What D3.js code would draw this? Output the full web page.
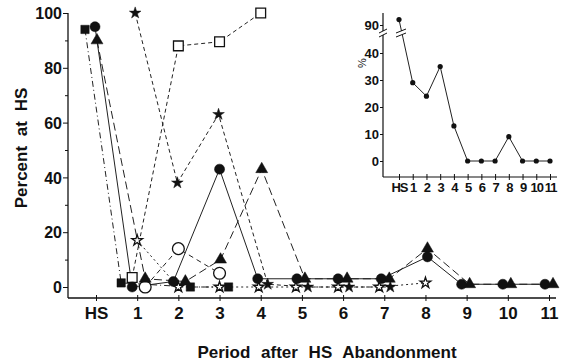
<!DOCTYPE html>
<html>
<head>
<meta charset="utf-8">
<script src="https://cdn.jsdelivr.net/npm/d3@7"></script>
<style>
  body { margin: 0; background: #fff; }
  svg { display: block; }
  text { font-family: "Liberation Sans", Arial, sans-serif; font-weight: bold; fill: #111; }
</style>
</head>
<body>
<svg id="chart" width="566" height="362"></svg>
<script>
// ---- data (percent at HS per period) ----
const periods = ["HS", "1", "2", "3", "4", "5", "6", "7", "8", "9", "10", "11"];
const yTicks = [0, 20, 40, 60, 80, 100];
const yMinorTicks = [10, 30, 50, 70, 90];

const filledCircle   = [95, 0, 2, 43, 3, 3, 3, 3, 11, 1, 1, 1];
const filledTriangle = [90, 3, 2, 10, 43, 3, 3, 3, 14, 1, 1, 1];
const filledSquare   = [94, 1.5, 0, 0, null, null, null, null, null, null, null, null];
const openSquare     = [null, 3.5, 88, 89.5, 100, null, null, null, null, null, null, null];
const openCircle     = [null, 0, 14, 5, null, null, null, null, null, null, null, null];
const filledStar     = [null, 100, 38, 63, 1, 0, 0, 0, null, null, null, null];
const openStar       = [null, 17, 0, 0, 0, 0, 0, 0, 1.5, null, null, null];

// inset: overall percent
const insetTicks = [0, 10, 20, 30, 40];
const insetPercent = [92, 29, 24, 35, 13, 0, 0, 0, 9, 0, 0, 0];

// ---- styles: symbol, dash and small horizontal nudges so overlapping marks stay visible ----
const seriesStyle = [
  { values: filledSquare,   symbol: d3.symbolSquare,   size: 70,  fill: "#111", dash: "6,3,1,3",
    nudge: [-11, -16, 12, 9] },
  { values: openSquare,     symbol: d3.symbolSquare,   size: 95,  fill: "#fff", dash: "4,3",
    nudge: [0, -5, 0, 0, 0] },
  { values: openCircle,     symbol: d3.symbolCircle,   size: 110, fill: "#fff", dash: "5,4",
    nudge: [0, 8, 0, 0] },
  { values: openStar,       symbol: d3.symbolStar,     size: 36,  fill: "#fff", dash: "2,3",
    nudge: [0, 0, 0, 0, -2, -6, -5, -5, 0] },
  { values: filledStar,     symbol: d3.symbolStar,     size: 42,  fill: "#111", dash: "4,3",
    nudge: [0, -2, -1, -1, 7, 6, 6, 6] },
  { values: filledTriangle, symbol: d3.symbolTriangle, size: 62,  fill: "#111", dash: "8,4",
    nudge: [1, 8, 7, 1, 1, 3, 4, 5, 2, 3, 3, 4] },
  { values: filledCircle,   symbol: d3.symbolCircle,   size: 80,  fill: "#111", dash: null,
    nudge: [-1, -5, -5, 0, -3, -5, -5, -3, 2, -5, -5, -4] }
];

const svg = d3.select("#chart");

// ================= main chart =================
const margin = { top: 13, left: 68, right: 10, bottom: 64 };
const plotRight = 556, axisY = 298;

const x = d3.scalePoint().domain(periods).range([96, 549]);
const y = d3.scaleLinear().domain([0, 100]).range([287, 13]);

// axes lines
svg.append("line").attr("x1", margin.left).attr("x2", margin.left)
  .attr("y1", margin.top).attr("y2", axisY).attr("stroke", "#111").attr("stroke-width", 1.3);
svg.append("line").attr("x1", margin.left).attr("x2", plotRight)
  .attr("y1", axisY).attr("y2", axisY).attr("stroke", "#111").attr("stroke-width", 1.3);

const yAxis = svg.append("g").attr("transform", `translate(${margin.left},0)`)
  .call(d3.axisLeft(y).tickValues(yTicks).tickSize(5).tickSizeOuter(0));
yAxis.select(".domain").remove();
yAxis.selectAll("text").attr("x", -6).attr("dy", "0.36em")
  .style("font-size", "16px").style("font-family", "Liberation Sans, Arial, sans-serif").style("font-weight", "bold");

const yMinor = svg.append("g").attr("transform", `translate(${margin.left},0)`)
  .call(d3.axisLeft(y).tickValues(yMinorTicks).tickSize(3).tickFormat(""));
yMinor.select(".domain").remove();

const xAxis = svg.append("g").attr("transform", `translate(0,${axisY})`)
  .call(d3.axisBottom(x).tickSize(3).tickSizeOuter(0));
xAxis.select(".domain").remove();
xAxis.selectAll(".tick line").attr("y1", -3).attr("y2", 3);
xAxis.selectAll("text").attr("y", 9)
  .style("font-size", "17px").style("font-family", "Liberation Sans, Arial, sans-serif").style("font-weight", "bold");

svg.selectAll(".tick line").attr("stroke", "#111");
svg.selectAll(".tick text").attr("fill", "#111");

// axis titles
svg.append("text")
  .attr("x", 327).attr("y", 358)
  .attr("text-anchor", "middle")
  .style("font-size", "17px").style("word-spacing", "6px")
  .text("Period after HS Abandonment");

svg.append("text")
  .attr("transform", "translate(27,148) rotate(-90)")
  .attr("text-anchor", "middle")
  .style("font-size", "17px").style("word-spacing", "5px")
  .text("Percent at HS");

// series
const px = (s, i) => x(periods[i]) + (s.nudge[i] || 0);

const lineGroup = svg.append("g");
const markGroup = svg.append("g");

seriesStyle.forEach(s => {
  const pts = s.values.map((v, i) => ({ i, v })).filter(d => d.v !== null);
  const line = d3.line().x(d => px(s, d.i)).y(d => y(d.v));
  lineGroup.append("path")
    .datum(pts)
    .attr("d", line)
    .attr("fill", "none")
    .attr("stroke", "#222")
    .attr("stroke-width", 1)
    .attr("stroke-dasharray", s.dash);
});

seriesStyle.forEach(s => {
  const pts = s.values.map((v, i) => ({ i, v })).filter(d => d.v !== null);
  markGroup.selectAll(null)
    .data(pts)
    .join("path")
    .attr("transform", d => `translate(${px(s, d.i)},${y(d.v)})`)
    .attr("d", d3.symbol().type(s.symbol).size(s.size))
    .attr("fill", s.fill)
    .attr("stroke", "#111")
    .attr("stroke-width", s.fill === "#fff" ? 1.3 : 0.5);
});

// ================= inset =================
const inset = { left: 383, top: 13, bottom: 177, right: 557 };
const xi = d3.scalePoint().domain(periods).range([399, 550]);
const yiLow = d3.scaleLinear().domain([0, 40]).range([161, 53]);
const yiHigh = d3.scaleLinear().domain([90, 100]).range([25, -2]);
const yi = v => (v > 50 ? yiHigh(v) : yiLow(v));

const ig = svg.append("g");

ig.append("line").attr("x1", inset.left).attr("x2", inset.left)
  .attr("y1", inset.top).attr("y2", inset.bottom).attr("stroke", "#111").attr("stroke-width", 1.2);
ig.append("line").attr("x1", inset.left).attr("x2", inset.right)
  .attr("y1", inset.bottom).attr("y2", inset.bottom).attr("stroke", "#111").attr("stroke-width", 1.2);

const yiAxis = ig.append("g").attr("transform", `translate(${inset.left},0)`)
  .call(d3.axisLeft(yiLow).tickValues(insetTicks).tickSize(3).tickSizeOuter(0));
yiAxis.select(".domain").remove();
const yiTop = ig.append("g").attr("transform", `translate(${inset.left},0)`)
  .call(d3.axisLeft(yiHigh).tickValues([90]).tickSize(3).tickSizeOuter(0));
yiTop.select(".domain").remove();
ig.selectAll("text").attr("x", -4).attr("dy", "0.36em")
  .style("font-size", "13px").style("font-family", "Liberation Sans, Arial, sans-serif").style("font-weight", "bold");

const xiAxis = ig.append("g").attr("transform", `translate(0,${inset.bottom})`)
  .call(d3.axisBottom(xi).tickSize(3).tickSizeOuter(0));
xiAxis.select(".domain").remove();
xiAxis.selectAll(".tick line").attr("y1", -3).attr("y2", 3);
xiAxis.selectAll("text").attr("y", 6)
  .style("font-size", "13px").style("letter-spacing", "-1px")
  .style("font-family", "Liberation Sans, Arial, sans-serif").style("font-weight", "bold");
ig.selectAll(".tick line").attr("stroke", "#111");
ig.selectAll(".tick text").attr("fill", "#111");

// axis break marks on inset y axis
const breakY = 33;
ig.append("rect").attr("x", inset.left - 2).attr("y", breakY - 2).attr("width", 4).attr("height", 4).attr("fill", "#fff");
[-2, 2].forEach(o => {
  ig.append("line")
    .attr("x1", inset.left - 4).attr("y1", breakY + o + 2)
    .attr("x2", inset.left + 4).attr("y2", breakY + o - 2)
    .attr("stroke", "#111").attr("stroke-width", 1);
});

// % label
ig.append("text")
  .attr("transform", "translate(366,63) rotate(-90)")
  .attr("text-anchor", "middle")
  .style("font-size", "11px").style("font-weight", "normal")
  .text("%");

// inset line + points
ig.append("path")
  .datum(insetPercent)
  .attr("d", d3.line().x((d, i) => xi(periods[i])).y(d => yi(d)))
  .attr("fill", "none").attr("stroke", "#222").attr("stroke-width", 1);

// break marks on the data line between HS and 1
const bx = xi(periods[0]) + 2, by = 33;
ig.append("rect").attr("x", bx - 3).attr("y", by - 2).attr("width", 6).attr("height", 4).attr("fill", "#fff");
[-2, 2].forEach(o => {
  ig.append("line")
    .attr("x1", bx - 5).attr("y1", by + o + 2)
    .attr("x2", bx + 5).attr("y2", by + o - 2)
    .attr("stroke", "#111").attr("stroke-width", 1);
});

ig.selectAll("circle.pt")
  .data(insetPercent)
  .join("circle")
  .attr("class", "pt")
  .attr("cx", (d, i) => xi(periods[i]))
  .attr("cy", d => yi(d))
  .attr("r", 2.6)
  .attr("fill", "#111");
</script>
</body>
</html>
